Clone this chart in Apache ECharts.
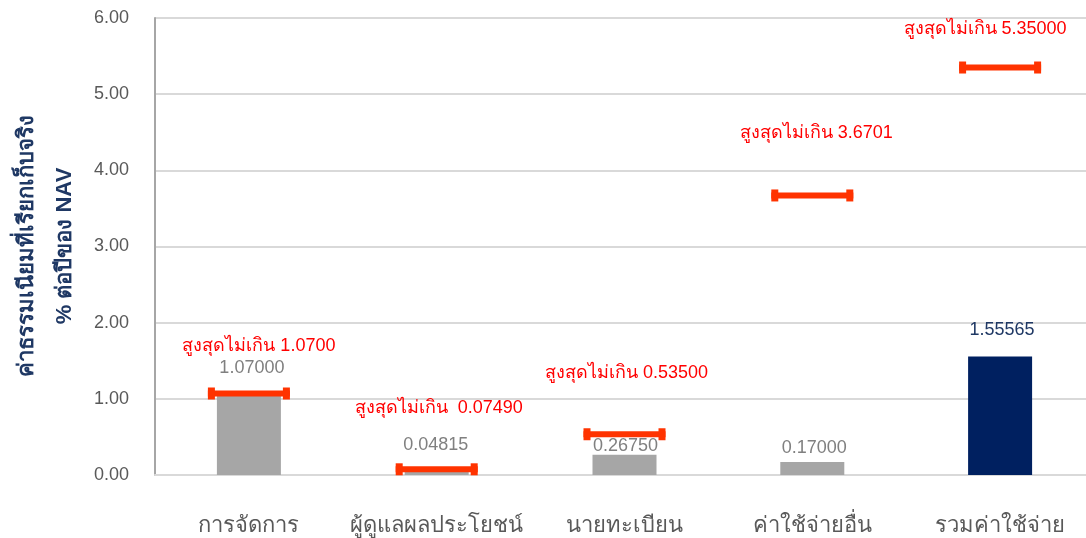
<!DOCTYPE html>
<html>
<head>
<meta charset="utf-8">
<script src="https://cdn.jsdelivr.net/npm/echarts@6/dist/echarts.min.js"></script>
<style>
html,body{margin:0;padding:0;background:#fff;}
#chart{width:1086px;height:538px;}
</style>
</head>
<body>
<div id="chart"></div>
<script>
const categories = ['การจัดการ', 'ผู้ดูแลผลประโยชน์', 'นายทะเบียน', 'ค่าใช้จ่ายอื่น', 'รวมค่าใช้จ่าย'];
const actualValues = [1.07000, 0.04815, 0.26750, 0.17000, 1.55565];
const maxValues = [1.0700, 0.07490, 0.53500, 3.6701, 5.35000];
const maxLabels = ['สูงสุดไม่เกิน 1.0700', 'สูงสุดไม่เกิน  0.07490', 'สูงสุดไม่เกิน 0.53500', 'สูงสุดไม่เกิน 3.6701', 'สูงสุดไม่เกิน 5.35000'];
const yTicks = [0, 1, 2, 3, 4, 5, 6];
const actualLabels = ['1.07000', '0.04815', '0.26750', '0.17000', '1.55565'];
const yTitleLines = ['ค่าธรรมเนียมที่เรียกเก็บจริง', '% ต่อปีของ NAV'];

// layout tweaks (label placement, in pixels)
const maxLabelShift = [[10, 47], [2, 61], [2, 61], [4, 62], [-15, 38]];
const actualLabelShift = [[3, 25], [-1, 26], [1, 9], [2, 14], [2, 26]];

const FONT = '"Liberation Sans", Arial, "Noto Sans", sans-serif';
const barColors = ['#A6A6A6', '#A6A6A6', '#A6A6A6', '#A6A6A6', '#002060'];
const labelColors = ['#808080', '#808080', '#808080', '#808080', '#1F3864'];

const chart = echarts.init(document.getElementById('chart'), null, {renderer: 'canvas'});

const option = {
  animation: false,
  backgroundColor: '#ffffff',
  grid: {left: 155, right: -8, top: 18, bottom: 63, containLabel: false, outerBoundsMode: 'none'},
  graphic: [
    {type: 'text', x: 27, y: 246, rotation: Math.PI / 2,
      style: {text: yTitleLines[0], fill: '#1F3864', font: 'bold 22px ' + FONT, align: 'center', verticalAlign: 'middle'}},
    {type: 'text', x: 65, y: 246, rotation: Math.PI / 2,
      style: {text: yTitleLines[1], fill: '#1F3864', font: 'bold 22px ' + FONT, align: 'center', verticalAlign: 'middle'}}
  ],
  xAxis: {
    type: 'category',
    data: categories,
    axisLine: {show: true, lineStyle: {color: '#D9D9D9', width: 2}},
    axisTick: {show: false},
    axisLabel: {
      color: '#595959', fontSize: 22, fontFamily: FONT, margin: 40, interval: 0
    }
  },
  yAxis: {
    type: 'value',
    min: 0, max: 6, interval: 1,
    axisLine: {show: true, lineStyle: {color: '#A6A6A6', width: 2}},
    axisTick: {show: false},
    splitLine: {show: true, lineStyle: {color: '#D9D9D9', width: 2}},
    axisLabel: {
      color: '#595959', fontSize: 18, fontFamily: FONT, margin: 26,
      formatter: v => yTicks.includes(v) ? v.toFixed(2) : ''
    }
  },
  series: [
    {
      type: 'bar',
      barWidth: 64,
      data: actualValues.map((v, i) => ({
        value: v,
        itemStyle: {color: barColors[i]},
        label: {
          show: true, position: 'top',
          formatter: actualLabels[i],
          color: labelColors[i], fontSize: 18, fontFamily: FONT,
          distance: 0,
          offset: [actualLabelShift[i][0], -actualLabelShift[i][1] + 9]
        }
      })),
      z: 2
    },
    {
      type: 'custom',
      data: maxValues.map((v, i) => [i, v]),
      z: 5,
      renderItem: function (params, api) {
        const i = params.dataIndex;
        const p = api.coord([api.value(0), api.value(1)]);
        const w = 82;
        const color = '#FF3300';
        const sh = maxLabelShift[i];
        return {
          type: 'group',
          children: [
            {type: 'rect', shape: {x: p[0] - w / 2, y: p[1] - 3, width: w, height: 6}, style: {fill: color}},
            {type: 'rect', shape: {x: p[0] - w / 2, y: p[1] - 6, width: 7, height: 12}, style: {fill: color}},
            {type: 'rect', shape: {x: p[0] + w / 2 - 7, y: p[1] - 6, width: 7, height: 12}, style: {fill: color}},
            {type: 'text', x: p[0] + sh[0], y: p[1] - sh[1],
              style: {text: maxLabels[i], fill: '#FF0000', font: '18px ' + FONT, align: 'center', verticalAlign: 'middle'}}
          ]
        };
      }
    }
  ]
};
chart.setOption(option);
</script>
</body>
</html>
